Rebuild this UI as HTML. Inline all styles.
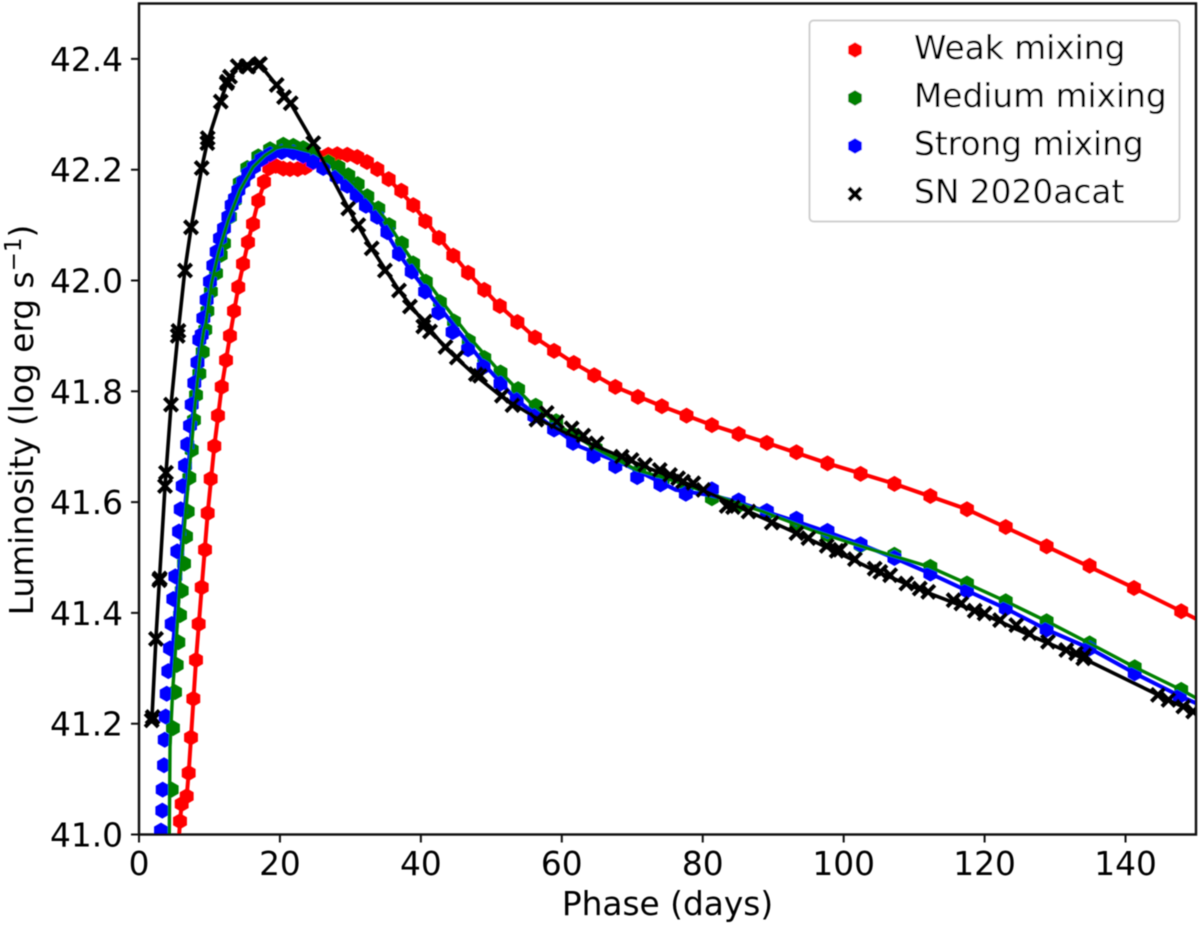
<!DOCTYPE html>
<html>
<head>
<meta charset="utf-8">
<title>Luminosity vs phase</title>
<style>
html,body{margin:0;padding:0;background:#fff;}
svg{display:block;}
text{font-family:"DejaVu Sans","Liberation Sans",sans-serif;fill:#000;}
</style>
</head>
<body>
<svg id="chart" xmlns="http://www.w3.org/2000/svg" width="1200" height="925" viewBox="0 0 1200 925">
  <defs>
    <clipPath id="plot-clip"><rect x="139" y="3.5" width="1057" height="831"/></clipPath>
    <filter id="soft" x="-2%" y="-2%" width="104%" height="104%"><feGaussianBlur stdDeviation="0.6"/></filter>
  </defs>
  <g filter="url(#soft)">
    <g id="series" clip-path="url(#plot-clip)"></g>
    <g id="axes"></g>
    <text x="667.5" y="915" font-size="32.8" text-anchor="middle">Phase (days)</text>
    <text transform="translate(33,420) rotate(-90)" font-size="32.8" text-anchor="middle">Luminosity (log erg s<tspan font-size="23" dy="-12">−1</tspan><tspan dy="12">)</tspan></text>
    <g>
      <rect x="809.5" y="20.5" width="370" height="201" rx="4" fill="#fff" fill-opacity="0.9" stroke="#d0d0d0" stroke-width="2"/>
      <g>
        <polygon points="855,42.2 861.8,46.1 861.8,53.9 855,57.8 848.2,53.9 848.2,46.1" fill="#ff0000"/>
        <text x="914" y="59" font-size="32.8">Weak mixing</text>
      </g>
      <g>
        <polygon points="855,90.2 861.8,94.1 861.8,101.9 855,105.8 848.2,101.9 848.2,94.1" fill="#008000"/>
        <text x="914" y="107" font-size="32.8">Medium mixing</text>
      </g>
      <g>
        <polygon points="855,138.2 861.8,142.1 861.8,149.9 855,153.8 848.2,149.9 848.2,142.1" fill="#0000ff"/>
        <text x="914" y="155" font-size="32.8">Strong mixing</text>
      </g>
      <g>
        <path d="M849,188 L861,200 M861,188 L849,200" stroke="#000" stroke-width="4.2" fill="none"/>
        <text x="914" y="203" font-size="32.8">SN 2020acat</text>
      </g>
    </g>
  </g>
</svg>
<script>
const xTickValues = [0,20,40,60,80,100,120,140];
const yTickValues = [41.0,41.2,41.4,41.6,41.8,42.0,42.2,42.4];
const yTickLabels = ["41.0","41.2","41.4","41.6","41.8","42.0","42.2","42.4"];

const weakDays = [5.82,6.06,6.77,7.05,7.38,7.71,8.09,8.47,8.90,9.37,9.75,10.17,10.69,11.21,11.74,12.35,12.91,13.48,14.09,14.76,15.47,16.18,16.93,17.74,18.49,19.40,20.48,21.43,22.52,23.56,24.51,25.7,26.86,28.14,29.56,30.98,32.35,33.82,35.43,37.22,38.92,40.63,42.57,44.6,46.7,49.0,51.2,53.7,56.2,58.9,61.7,64.6,67.6,70.8,74.2,77.7,81.3,85.1,89.1,93.3,97.7,102.4,107.2,112.3,117.5,123.0,128.8,134.9,141.2,147.9];
const weakLum = [41.024,41.055,41.069,41.111,41.175,41.245,41.315,41.380,41.446,41.514,41.580,41.642,41.701,41.756,41.808,41.856,41.900,41.945,41.988,42.030,42.069,42.102,42.144,42.178,42.203,42.207,42.202,42.201,42.201,42.204,42.212,42.221,42.227,42.228,42.227,42.223,42.214,42.201,42.183,42.162,42.136,42.107,42.077,42.045,42.014,41.983,41.954,41.925,41.897,41.873,41.851,41.829,41.808,41.790,41.773,41.756,41.739,41.723,41.707,41.690,41.670,41.651,41.633,41.611,41.587,41.555,41.520,41.485,41.445,41.403];
const weakLineDays = [5.7,5.82,6.06,6.77,7.05,7.38,8.09,8.90,9.75,10.69,11.74,12.91,14.09,15.47,16.93,18.49,19.40,20.48,22.52,24.51,26.86,29.56,32.35,35.43,38.92,42.57,46.7,51.2,56.2,61.7,67.6,74.2,81.3,89.1,97.7,107.2,117.5,128.8,141.2,147.9,150.2];
const weakLineLum = [41.0,41.024,41.055,41.069,41.111,41.175,41.315,41.446,41.580,41.701,41.808,41.900,41.988,42.069,42.144,42.203,42.207,42.202,42.201,42.212,42.227,42.227,42.214,42.183,42.136,42.077,42.014,41.954,41.897,41.851,41.808,41.773,41.739,41.707,41.670,41.633,41.587,41.520,41.445,41.403,41.388];

const mediumDays = [4.64,4.82,5.11,5.35,5.58,5.82,6.06,6.39,6.67,6.91,7.14,7.48,7.80,8.09,8.56,9.04,9.40,9.70,10.2,10.93,11.59,12.06,12.9,13.6,14.3,15.37,16.93,18.6,20.48,21.9,23.3,24.65,26.86,28.3,29.7,31.03,32.4,33.96,35.5,37.3,38.9,40.7,42.7,44.7,46.8,49.0,51.3,53.8,56.3,59.2,61.9,64.8,67.8,71.0,74.3,77.7,81.3,85.1,89.1,93.3,97.7,102.4,107.2,112.3,117.5,123,128.8,134.9,141.3,147.9];
const mediumLum = [41.081,41.192,41.257,41.306,41.347,41.396,41.440,41.489,41.538,41.583,41.644,41.694,41.748,41.793,41.832,41.871,41.911,41.945,41.980,42.013,42.046,42.067,42.115,42.145,42.176,42.203,42.224,42.237,42.245,42.243,42.239,42.229,42.214,42.205,42.190,42.174,42.152,42.130,42.100,42.067,42.031,41.998,41.961,41.926,41.891,41.860,41.834,41.804,41.774,41.746,41.720,41.697,41.675,41.656,41.640,41.622,41.607,41.594,41.580,41.562,41.542,41.522,41.505,41.483,41.453,41.421,41.385,41.345,41.302,41.261];
const mediumLineDays = [4.3,4.4,4.78,5.35,5.82,6.53,7.24,7.95,8.66,9.22,9.5,10.3,11.26,12.68,14.33,16.2,17.9,19.5,20.5,22,25,27.1,29.9,32.8,35.1,37.75,39.9,43.7,47.4,50.8,55.5,60.2,64.9,70.6,76.3,81.5,88.5,95.6,102.3,107,112.2,117.5,123,128.8,134.9,141.3,147.9,150.2];
const mediumLineLum = [41.0,41.158,41.26,41.364,41.46,41.568,41.671,41.773,41.863,41.911,41.923,41.995,42.049,42.109,42.163,42.205,42.226,42.239,42.242,42.24,42.23,42.212,42.181,42.145,42.109,42.055,42.016,41.950,41.890,41.841,41.780,41.733,41.696,41.658,41.637,41.613,41.583,41.549,41.521,41.503,41.483,41.453,41.421,41.385,41.345,41.302,41.261,41.245];

const strongDays = [3.12,3.31,3.36,3.55,3.65,3.79,3.93,4.16,4.4,4.64,4.87,5.16,5.44,5.68,5.92,6.2,6.53,6.85,7.24,7.48,7.85,8.3,8.56,8.9,9.13,9.6,10.07,10.55,11.02,11.49,12.06,12.68,13.15,13.62,14.1,14.8,15.5,16.32,17.4,18.6,20.25,21.9,23.3,24.7,26.15,28.05,29.55,30.9,32.2,33.8,35.25,36.9,38.7,40.6,42.5,44.5,46.7,48.9,51.3,53.6,56.1,58.9,61.6,64.5,67.6,70.7,74.0,77.6,81.3,85.1,89.1,93.3,97.7,102.4,107.2,112.3,117.5,123,128.8,134.9,141.3,147.7];
const strongLum = [41.007,41.043,41.081,41.125,41.171,41.213,41.254,41.295,41.336,41.380,41.425,41.466,41.511,41.547,41.587,41.629,41.666,41.704,41.738,41.776,41.815,41.852,41.893,41.902,41.932,41.965,41.998,42.027,42.052,42.076,42.094,42.115,42.136,42.148,42.163,42.178,42.193,42.205,42.219,42.228,42.232,42.231,42.225,42.214,42.203,42.187,42.171,42.154,42.135,42.115,42.087,42.048,42.016,41.980,41.942,41.907,41.876,41.844,41.814,41.784,41.755,41.731,41.707,41.683,41.665,41.645,41.632,41.615,41.623,41.603,41.584,41.570,41.548,41.524,41.499,41.471,41.440,41.408,41.370,41.336,41.291,41.250];
const strongLineDays = [4.6,5.3,5.9,6.6,7.4,8.2,9.1,10.3,11.5,13,15,17,19,20.5,22,25,28,31,34,36.9,38.5,42.2,46,49.3,53.6,57.9,62.6,69.1,76.2,81.3,85.1,89.1,93.3,97.7,102.4,107.2,112.3,117.5,123,128.8,134.9,141.3,147.7,150.2];
const strongLineLum = [41.3,41.42,41.5,41.6,41.72,41.83,41.92,42.0,42.06,42.12,42.17,42.21,42.225,42.23,42.228,42.21,42.185,42.15,42.11,42.048,42.019,41.959,41.898,41.844,41.784,41.743,41.70,41.667,41.622,41.612,41.6,41.582,41.565,41.546,41.524,41.499,41.471,41.440,41.408,41.370,41.336,41.291,41.250,41.236];

const observedDays = [1.8,1.94,2.41,2.88,2.95,3.69,3.83,4.54,5.49,5.6,6.53,7.38,8.9,9.69,9.75,11.6,12.44,12.53,12.91,14.0,15.28,15.5,16.93,17.17,19.54,20.58,21.53,24.73,29.7,31.12,33.02,34.9,36.9,38.45,40.34,40.58,41.3,43.5,45.1,47.8,48.4,51.5,53,56.4,57.85,59.3,61.4,63.05,64.95,68.5,69.9,71.8,73.9,75.35,76.5,77.2,78.66,80.1,83.4,84.3,86.5,89.8,93.3,95.0,97.6,99.0,99.5,101.6,104.4,105.2,106.6,108.9,110.8,112,115.6,116.7,118.6,120,122.2,124.5,126.4,129,131.6,133,134,134.2,144.6,146.1,148.2,149.6];
const observedLum = [41.206,41.212,41.353,41.459,41.462,41.629,41.653,41.776,41.900,41.909,42.018,42.096,42.203,42.248,42.257,42.323,42.356,42.359,42.368,42.387,42.387,42.386,42.389,42.391,42.353,42.331,42.320,42.248,42.130,42.100,42.058,42.018,41.982,41.953,41.917,41.926,41.908,41.880,41.861,41.831,41.828,41.792,41.775,41.749,41.761,41.745,41.733,41.720,41.706,41.682,41.676,41.667,41.658,41.649,41.643,41.637,41.634,41.622,41.593,41.591,41.583,41.563,41.544,41.535,41.521,41.512,41.514,41.497,41.480,41.474,41.468,41.453,41.444,41.438,41.423,41.417,41.404,41.399,41.387,41.378,41.363,41.348,41.333,41.327,41.318,41.324,41.252,41.243,41.231,41.222];
const observedLineDays = [1.8,2.4,2.9,3.7,4.55,5.5,6.5,7.4,8.9,9.7,11.6,12.5,14,15.3,17,19.5,21.5,24.7,27,29.7,33,36.9,40.4,43.5,47.8,51.5,56,60,65,70,76.5,80,86.5,93.3,99,105,112,120,126,134,144.6,150.2];
const observedLineLum = [41.2,41.353,41.46,41.63,41.776,41.9,42.018,42.096,42.203,42.25,42.325,42.357,42.385,42.391,42.392,42.353,42.32,42.25,42.195,42.13,42.058,41.982,41.925,41.878,41.828,41.79,41.755,41.728,41.7,41.673,41.64,41.622,41.583,41.544,41.51,41.473,41.436,41.397,41.362,41.318,41.252,41.218];

const NS = "http://www.w3.org/2000/svg";
const plotLeft = 139, plotRight = 1196, plotTop = 3.5, plotBottom = 834.5;
const xMin = 0, xMax = 150, yMin = 41, yMax = 42.5;
function xScale(v){ return plotLeft + (v - xMin) / (xMax - xMin) * (plotRight - plotLeft); }
function yScale(v){ return plotBottom - (v - yMin) / (yMax - yMin) * (plotBottom - plotTop); }

const seriesGroup = document.getElementById("series");
const axesGroup = document.getElementById("axes");

function linePath(days, lum){
  return days.map((d,i)=>(i?"L":"M")+xScale(d).toFixed(2)+" "+yScale(lum[i]).toFixed(2)).join(" ");
}
function hexPoints(cx, cy, r){
  const pts = [];
  for(let k=0;k<6;k++){
    const a = Math.PI/3*k - Math.PI/2;
    pts.push((cx+r*Math.cos(a)).toFixed(2)+","+(cy+r*Math.sin(a)).toFixed(2));
  }
  return pts.join(" ");
}
function drawLine(days, lum, color, width, name){
  const el = document.createElementNS(NS,"path");
  el.setAttribute("d", linePath(days, lum));
  el.setAttribute("fill","none");
  el.setAttribute("stroke",color);
  el.setAttribute("stroke-width",width);
  el.setAttribute("stroke-linejoin","round");
  
  
  seriesGroup.appendChild(el);
}
function drawHexagons(days, lum, color, name){
  days.forEach((d,i)=>{
    const el = document.createElementNS(NS,"polygon");
    el.setAttribute("points", hexPoints(xScale(d), yScale(lum[i]), 8));
    el.setAttribute("fill",color);
    
    
    seriesGroup.appendChild(el);
  });
}
function drawCrosses(days, lum, name){
  const s = 6.6;
  days.forEach((d,i)=>{
    const x = xScale(d), y = yScale(lum[i]);
    const el = document.createElementNS(NS,"path");
    el.setAttribute("d","M"+(x-s)+" "+(y-s)+" L"+(x+s)+" "+(y+s)+" M"+(x+s)+" "+(y-s)+" L"+(x-s)+" "+(y+s));
    el.setAttribute("stroke","#000");
    el.setAttribute("stroke-width","4");
    el.setAttribute("fill","none");
    
    
    seriesGroup.appendChild(el);
  });
}

drawLine(weakLineDays, weakLineLum, "#ff0000", 4, "weak-mixing-line");
drawHexagons(weakDays, weakLum, "#ff0000", "weak-mixing-point");
drawHexagons(mediumDays, mediumLum, "#008000", "medium-mixing-point");
drawHexagons(strongDays, strongLum, "#0000ff", "strong-mixing-point");
drawLine(strongLineDays, strongLineLum, "#0000ff", 4, "strong-mixing-line");
drawLine(mediumLineDays, mediumLineLum, "#008000", 3.4, "medium-mixing-line");
drawCrosses(observedDays, observedLum, "observed-point");
drawLine(observedLineDays, observedLineLum, "#000000", 3.6, "observed-line");

const frame = document.createElementNS(NS,"rect");
frame.setAttribute("x",plotLeft);
frame.setAttribute("y",plotTop);
frame.setAttribute("width",plotRight-plotLeft);
frame.setAttribute("height",plotBottom-plotTop);
frame.setAttribute("fill","none");
frame.setAttribute("stroke","#111");
frame.setAttribute("stroke-width","2.4");


axesGroup.appendChild(frame);

xTickValues.forEach(v=>{
  const t = document.createElementNS(NS,"line");
  t.setAttribute("x1",xScale(v)); t.setAttribute("x2",xScale(v));
  t.setAttribute("y1",plotBottom); t.setAttribute("y2",plotBottom+8);
  t.setAttribute("stroke","#111"); t.setAttribute("stroke-width","2");
  
  
  axesGroup.appendChild(t);
  const l = document.createElementNS(NS,"text");
  l.setAttribute("x",xScale(v)); l.setAttribute("y",875);
  l.setAttribute("font-size","32.8"); l.setAttribute("text-anchor","middle");
  l.textContent = String(v);
  
  
  axesGroup.appendChild(l);
});
yTickValues.forEach((v,i)=>{
  const t = document.createElementNS(NS,"line");
  t.setAttribute("x1",plotLeft-8); t.setAttribute("x2",plotLeft);
  t.setAttribute("y1",yScale(v)); t.setAttribute("y2",yScale(v));
  t.setAttribute("stroke","#111"); t.setAttribute("stroke-width","2");
  
  
  axesGroup.appendChild(t);
  const l = document.createElementNS(NS,"text");
  l.setAttribute("x",123); l.setAttribute("y",yScale(v)+12);
  l.setAttribute("font-size","32.8"); l.setAttribute("text-anchor","end");
  l.textContent = yTickLabels[i];
  
  
  axesGroup.appendChild(l);
});
</script>
</body>
</html>
